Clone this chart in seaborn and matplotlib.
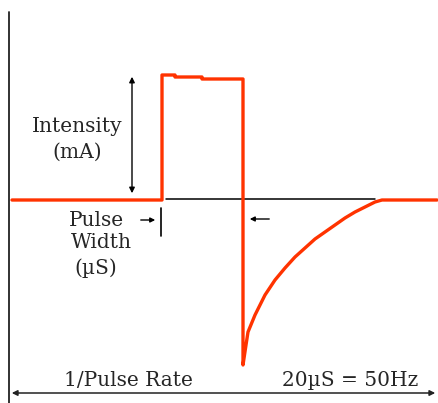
import numpy as np
import matplotlib
matplotlib.use("Agg")
import matplotlib.pyplot as plt
import seaborn as sns

# waveform: time (arbitrary units) vs current amplitude
time = [12, 162, 162, 175, 175, 202, 202, 243, 243, 246, 248, 255, 265, 275, 285, 295, 305,
        315, 325, 335, 345, 355, 365, 375, 382, 437]
current = [0, 0, 125, 125, 123, 123, 121, 121, -165, -145, -132, -115, -95, -80, -68, -57, -48,
           -39, -32, -25, -18, -12, -7, -2, 0, 0]

sns.set_theme(style="white")
plt.rcParams["font.family"] = ["DejaVu Serif"]

fig = plt.figure(figsize=(4.39, 4.03), dpi=100)
ax = fig.add_axes([0, 0, 1, 1])
ax.set_xlim(0, 439)
ax.set_ylim(-203, 200)
ax.axis("off")

# axes / reference lines
ax.plot([9, 9], [188, -203], color="#222222", lw=1.3)
ax.plot([166, 375], [1, 1], color="black", lw=1.1)

sns.lineplot(x=time, y=current, estimator=None, sort=False, color="#ff3300", lw=2.4, ax=ax)

# intensity arrow
ax.annotate("", xy=(132, 126), xytext=(132, 4),
            arrowprops=dict(arrowstyle="<|-|>", color="black", lw=1, mutation_scale=8))
fs = 14.5
ax.text(77, 73, "Intensity", ha="center", va="center", fontsize=fs)
ax.text(77, 48, "(mA)", ha="center", va="center", fontsize=fs)

# pulse width markers
ax.annotate("", xy=(158, -20), xytext=(138, -20),
            arrowprops=dict(arrowstyle="-|>", color="black", lw=1, mutation_scale=7))
ax.plot([161, 161], [-8, -36], color="black", lw=1.2)
ax.annotate("", xy=(247, -19), xytext=(272, -19),
            arrowprops=dict(arrowstyle="-|>", color="black", lw=1, mutation_scale=7))
ax.text(96, -21, "Pulse", ha="center", va="center", fontsize=fs)
ax.text(101, -42, "Width", ha="center", va="center", fontsize=fs)
ax.text(96, -68, "(\u00b5S)", ha="center", va="center", fontsize=fs)

# period arrow
ax.annotate("", xy=(438, -193), xytext=(9, -193),
            arrowprops=dict(arrowstyle="<|-|>", color="#222222", lw=1.1, mutation_scale=8))
ax.text(128, -180, "1/Pulse Rate", ha="center", va="center", fontsize=fs)
ax.text(350, -180, "20\u00b5S = 50Hz", ha="center", va="center", fontsize=fs)

fig.savefig("out.png", dpi=100, facecolor="white")
